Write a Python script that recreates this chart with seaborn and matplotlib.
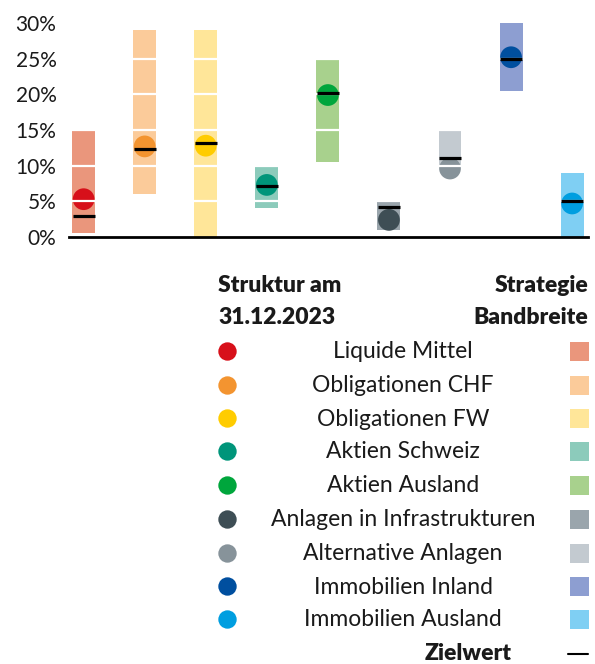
import numpy as np
import pandas as pd
import seaborn as sns
import matplotlib
matplotlib.use("Agg")
import matplotlib.pyplot as plt
from matplotlib.patches import Rectangle

# ---- data ----
categories = ["Liquide Mittel", "Obligationen CHF", "Obligationen FW", "Aktien Schweiz",
              "Aktien Ausland", "Anlagen in Infrastrukturen", "Alternative Anlagen",
              "Immobilien Inland", "Immobilien Ausland"]
band_low = [0.5, 6, 0, 4, 10.5, 1, 10, 20.5, 0]
band_high = [15, 29, 29, 10, 25, 5, 15, 30, 9]
actual = [5.3, 12.7, 12.8, 7.3, 19.9, 2.4, 9.6, 25.2, 4.7]
target = [3, 12.3, 13.2, 7.2, 20.2, 4.2, 11.1, 25, 5]
ytick_vals = [0, 5, 10, 15, 20, 25, 30]
ytick_labels = ["0%", "5%", "10%", "15%", "20%", "25%", "30%"]

dot_colors = ["#D7101A", "#F39430", "#FFCC00", "#00957A", "#00A63C",
              "#3E4E55", "#87939A", "#004F9F", "#009EE0"]
band_colors = ["#EA967C", "#FBCB9A", "#FFE699", "#8CCBBB", "#A8D18D",
               "#9AA5AC", "#C3CAD0", "#8D9ED1", "#7FCFF3"]

df = pd.DataFrame({"cat": categories, "lo": band_low, "hi": band_high,
                   "actual": actual, "target": target})
df["x"] = np.arange(len(df))

sns.set_theme(style="white")
plt.rcParams["font.family"] = ["Lato", "DejaVu Sans"]

fig = plt.figure(figsize=(5.95, 6.64), dpi=100)
ax = fig.add_axes([69/595, 1-237/664, (588-69)/595, (237-23)/664])

# bands
ax.bar(df["x"], df["hi"] - df["lo"], bottom=df["lo"], width=0.375,
       color=band_colors, linewidth=0, zorder=1)
# actual dots
sns.scatterplot(data=df, x="x", y="actual", hue="cat", palette=dot_colors,
                s=245, linewidth=0, legend=False, ax=ax, zorder=2)
# white grid lines over bands
for v in ytick_vals[1:-1]:
    ax.axhline(v, color="white", lw=1.6, zorder=3)
# target markers
sns.scatterplot(data=df, x="x", y="target", color="black", marker="_",
                s=250, linewidth=2.3, legend=False, ax=ax, zorder=4)

ax.set_xlim(-0.24, 8.26)
ax.set_ylim(0, 30)
ax.set_yticks(ytick_vals)
ax.set_yticklabels(ytick_labels, fontsize=15, color="#1a1a1a")
ax.set_xticks([])
ax.set_xlabel("")
ax.set_ylabel("")
ax.tick_params(axis="y", length=0, pad=9)
for s in ["top", "right", "left"]:
    ax.spines[s].set_visible(False)
ax.spines["bottom"].set_color("black")
ax.spines["bottom"].set_linewidth(2)
ax.spines["bottom"].set_zorder(5)
ax.set_facecolor("white")

# ---- legend (layout in pixel coords) ----
lg = fig.add_axes([0, 0, 1, 1], zorder=-1)
lg.set_xlim(0, 595)
lg.set_ylim(664, 0)
lg.axis("off")

hdr = dict(fontsize=16.5, fontweight="heavy", color="#1a1a1a", va="center")
lg.text(218, 286, "Struktur am", ha="left", **hdr)
lg.text(218, 317, "31.12.2023", ha="left", **hdr)
lg.text(588, 286, "Strategie", ha="right", **hdr)
lg.text(588, 317, "Bandbreite", ha="right", **hdr)

row_y = [352, 386, 419, 452, 486, 520, 554, 587, 620]
for i, name in enumerate(categories):
    y = row_y[i]
    lg.scatter([227], [y - 1], s=175, color=dot_colors[i], linewidth=0)
    lg.text(403, y, name, ha="center", va="center", fontsize=16.5, color="#1a1a1a")
    lg.add_patch(Rectangle((570, y - 10), 19, 19, color=band_colors[i], linewidth=0))

lg.text(512, 654, "Zielwert", ha="right", va="center", fontsize=16.5,
        fontweight="heavy", color="#1a1a1a")
lg.plot([568, 588], [654, 654], color="black", lw=1.5)

fig.savefig("out.png", dpi=100, facecolor="white")
